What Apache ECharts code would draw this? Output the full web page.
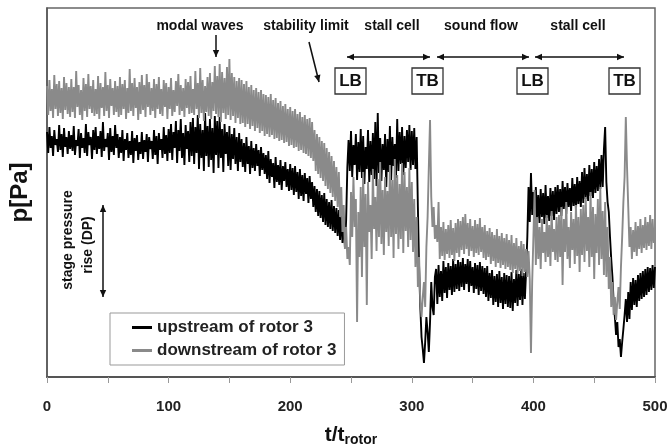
<!DOCTYPE html>
<html>
<head>
<meta charset="utf-8">
<script src="https://cdn.jsdelivr.net/npm/echarts@6/dist/echarts.min.js"></script>
<style>
  html, body { margin: 0; padding: 0; background: #fff; }
  #main { width: 671px; height: 447px; }
</style>
</head>
<body>
<div id="main"></div>
<script>
// sampling step in t/t_rotor
var tStep = 1;
var xTicks = [0, 100, 200, 300, 400, 500];
var seriesNames = ["upstream of rotor 3", "downstream of rotor 3"];

// upstream of rotor 3 (black), one row = 20 t/t_rotor
var upstream = [
  245, 224, 250, 229, 241, 221, 247, 232, 238, 225, 252, 227, 243, 220, 249, 230, 240, 223, 246, 228,
  242, 226, 251, 222, 237, 231, 248, 219, 244, 229, 239, 224, 253, 221, 245, 232, 240, 218, 247, 227,
  250, 223, 241, 228, 246, 220, 255, 226, 238, 230, 244, 217, 249, 225, 241, 222, 252, 229, 243, 219,
  240, 224, 247, 216, 238, 227, 244, 219, 236, 222, 246, 214, 239, 226, 242, 217, 235, 223, 245, 218,
  237, 225, 243, 215, 240, 228, 236, 218, 247, 222, 241, 213, 244, 227, 238, 219, 250, 223, 242, 216,
  248, 224, 253, 217, 245, 229, 256, 214, 247, 226, 258, 219, 244, 212, 252, 228, 246, 215, 255, 221,
  259, 213, 250, 224, 262, 208, 253, 219, 247, 206, 264, 221, 251, 210, 258, 217, 249, 204, 261, 222,
  256, 209, 260, 219, 248, 205, 253, 223, 245, 211, 251, 207, 243, 218, 249, 213, 240, 206, 244, 215,
  238, 210, 234, 205, 240, 213, 231, 203, 236, 209, 229, 206, 233, 211, 227, 201, 230, 207, 224, 203,
  222, 198, 226, 194, 218, 200, 214, 189, 220, 195, 212, 192, 217, 187, 211, 196, 215, 190, 208, 186,
  213, 187, 209, 182, 211, 185, 205, 178, 208, 181, 202, 176, 204, 183, 199, 174, 201, 178, 195, 170,
  191, 165, 188, 161, 186, 159, 182, 155, 184, 152, 178, 150, 175, 148, 177, 146, 171, 144, 169, 141,
  167, 137, 162, 134, 160, 130, 157, 210, 237, 206, 246, 200, 232, 212, 243, 197, 235, 205, 248, 199,
  241, 193, 230, 208, 247, 195, 236, 202, 244, 198, 255, 191, 264, 204, 239, 196, 233, 207, 243, 190,
  238, 205, 251, 197, 240, 211, 233, 199, 258, 206, 245, 213, 250, 202, 241, 209, 247, 215, 252, 207,
  246, 212, 249, 208, 240, 170, 110, 70, 40, 28, 14, 35, 60, 45, 25, 55, 95, 70, 62, 100,
  108, 73, 112, 80, 106, 76, 116, 84, 110, 79, 114, 87, 111, 82, 118, 85, 113, 88, 117, 86,
  115, 90, 119, 87, 113, 93, 118, 85, 116, 91, 110, 84, 114, 88, 112, 82, 115, 86, 111, 83,
  109, 80, 111, 76, 104, 79, 107, 72, 101, 75, 103, 70, 106, 74, 100, 68, 104, 73, 102, 70,
  101, 69, 105, 66, 98, 74, 107, 71, 103, 77, 108, 72, 104, 78, 106, 140, 190, 155, 204, 162,
  185, 150, 190, 158, 182, 154, 188, 160, 184, 153, 192, 159, 181, 156, 189, 161, 186, 157, 190, 163,
  192, 165, 188, 161, 196, 168, 190, 163, 194, 170, 189, 166, 199, 171, 193, 167, 200, 173, 196, 170,
  205, 174, 209, 178, 203, 176, 212, 181, 208, 179, 215, 184, 211, 186, 218, 188, 222, 190, 228, 250,
  195, 175, 165, 140, 118, 100, 75, 60, 42, 55, 30, 38, 20, 35, 48, 62, 78, 55, 85, 58,
  95, 67, 99, 72, 97, 70, 102, 76, 104, 78, 106, 80, 108, 82, 110, 85, 109, 87, 112, 89,
  110
];

// downstream of rotor 3 (grey)
var downstream = [
  291, 262, 297, 266, 288, 259, 302, 268, 293, 261, 296, 264, 289, 258, 300, 267, 294, 263, 290, 260,
  298, 265, 290, 259, 306, 270, 292, 262, 287, 257, 299, 266, 293, 260, 303, 268, 291, 264, 297, 261,
  288, 263, 301, 258, 294, 269, 290, 261, 305, 266, 292, 259, 298, 271, 289, 262, 296, 265, 291, 260,
  300, 262, 293, 268, 297, 258, 289, 264, 308, 266, 294, 261, 299, 269, 290, 257, 295, 263, 302, 267,
  292, 260, 303, 270, 295, 262, 289, 266, 298, 259, 293, 268, 300, 263, 288, 261, 297, 270, 294, 258,
  290, 268, 299, 261, 287, 265, 296, 271, 303, 262, 292, 266, 289, 260, 298, 269, 295, 263, 301, 264,
  288, 262, 306, 268, 294, 259, 309, 264, 297, 256, 291, 265, 300, 261, 304, 258, 295, 266, 311, 263,
  301, 260, 313, 255, 305, 264, 299, 258, 310, 262, 318, 257, 304, 261, 300, 254, 296, 259, 299, 253,
  297, 254, 293, 250, 296, 253, 290, 248, 292, 251, 287, 246, 289, 249, 285, 244, 287, 246, 283, 241,
  282, 243, 280, 240, 283, 242, 277, 238, 279, 239, 274, 236, 276, 237, 271, 234, 273, 235, 268, 231,
  270, 232, 266, 229, 268, 230, 263, 226, 265, 227, 260, 224, 262, 223, 258, 221, 259, 219, 255, 216,
  247, 206, 243, 203, 240, 199, 236, 196, 234, 191, 229, 188, 225, 184, 221, 180, 216, 176, 210, 170,
  205, 160, 190, 145, 172, 128, 150, 118, 130, 112, 185, 140, 200, 150, 178, 55, 165, 120, 190, 100,
  205, 130, 183, 72, 195, 145, 172, 118, 208, 148, 180, 126, 198, 140, 215, 133, 187, 122, 200, 145,
  186, 131, 212, 140, 197, 119, 218, 143, 202, 128, 193, 138, 214, 124, 205, 146, 190, 130, 209, 137,
  195, 125, 178, 110, 160, 90, 120, 75, 60, 80, 95, 70, 130, 160, 210, 257, 180, 150, 170, 138,
  152, 135, 175, 118, 150, 121, 155, 117, 148, 123, 152, 119, 157, 122, 149, 116, 154, 124, 158, 120,
  156, 127, 160, 123, 163, 128, 154, 121, 158, 126, 151, 120, 157, 124, 153, 122, 159, 125, 150, 119,
  152, 117, 146, 120, 149, 113, 145, 116, 142, 110, 148, 114, 141, 109, 144, 112, 139, 108, 143, 110,
  137, 107, 142, 104, 134, 108, 139, 103, 131, 106, 136, 101, 133, 105, 128, 100, 126, 98, 24, 95,
  140, 187, 112, 160, 118, 150, 108, 158, 124, 145, 115, 162, 120, 152, 111, 166, 125, 148, 117, 160,
  115, 162, 120, 170, 92, 158, 125, 175, 118, 150, 109, 165, 127, 158, 113, 172, 121, 160, 105, 168,
  122, 172, 115, 180, 126, 160, 110, 185, 120, 170, 98, 163, 124, 178, 112, 190, 118, 166, 102, 175,
  100, 150, 88, 120, 70, 95, 62, 80, 57, 75, 90, 68, 110, 140, 175, 200, 260, 210, 170, 130,
  150, 118, 147, 125, 155, 121, 151, 128, 158, 124, 152, 129, 160, 127, 155, 131, 162, 128, 158, 134,
  150
];

function toPairs(arr) {
  return arr.map(function (v, i) {
    return [i * tStep, v];
  });
}

var FONT = "Liberation Sans, Arial, sans-serif";

// arrow head as small triangle
function head(x, y, fx, fy) {
  var a = Math.atan2(y - fy, x - fx);
  var L = 7, W = 3.2;
  return {
    type: "polygon",
    shape: {
      points: [
        [x, y],
        [x - L * Math.cos(a) + W * Math.sin(a), y - L * Math.sin(a) - W * Math.cos(a)],
        [x - L * Math.cos(a) - W * Math.sin(a), y - L * Math.sin(a) + W * Math.cos(a)]
      ]
    },
    style: { fill: "#111" },
    z: 100
  };
}
function arrow(x1, y1, x2, y2, both) {
  var els = [
    {
      type: "line",
      shape: { x1: x1, y1: y1, x2: x2, y2: y2 },
      style: { stroke: "#111", lineWidth: 1.5 },
      z: 100
    },
    head(x2, y2, x1, y1)
  ];
  if (both) els.push(head(x1, y1, x2, y2));
  return els;
}
function label(txt, x, y, size, rot) {
  return {
    type: "text",
    x: x,
    y: y,
    rotation: rot || 0,
    style: {
      text: txt,
      font: "bold " + size + "px " + FONT,
      fill: "#111",
      textAlign: "center",
      textVerticalAlign: "middle"
    },
    z: 100
  };
}
function box(txt, x, y) {
  return [
    {
      type: "rect",
      shape: { x: x, y: y, width: 31, height: 26 },
      style: { fill: "#fff", stroke: "#333", lineWidth: 1.3 },
      z: 99
    },
    label(txt, x + 15.5, y + 13.5, 17)
  ];
}

var graphics = [].concat(
  label("modal waves", 200, 26, 14),
  label("stability limit", 306, 26, 14),
  label("stall cell", 392, 26, 14),
  label("sound flow", 481, 26, 14),
  label("stall cell", 578, 26, 14),
  arrow(216, 35, 216, 57),
  arrow(309, 42, 319, 82),
  arrow(347, 57, 430, 57, true),
  arrow(437, 57, 529, 57, true),
  arrow(535, 57, 624, 57, true),
  box("LB", 335, 68),
  box("TB", 412, 68),
  box("LB", 517, 68),
  box("TB", 609, 68),
  label("stage pressure", 68, 240, 14, Math.PI / 2),
  label("rise (DP)", 88, 245, 14, Math.PI / 2),
  arrow(103, 205, 103, 297, true)
);

var myChart = echarts.init(document.getElementById("main"));
var option = {
  animation: false,
  backgroundColor: "#fff",
  textStyle: { fontFamily: FONT },
  grid: {
    left: 47,
    right: 16,
    top: 8,
    bottom: 70,
    show: true,
    borderColor: "#666",
    borderWidth: 1.5,
    outerBoundsMode: "none"
  },
  legend: {
    orient: "vertical",
    left: 110,
    top: 313,
    data: seriesNames,
    icon: "rect",
    itemWidth: 20,
    itemHeight: 3,
    itemGap: 6,
    padding: [6, 8, 6, 22],
    backgroundColor: "#fff",
    borderColor: "#999",
    borderWidth: 1,
    textStyle: { fontSize: 17, fontWeight: "bold", color: "#222", fontFamily: FONT }
  },
  xAxis: {
    type: "value",
    min: 0,
    max: 500,
    interval: 50,
    axisLine: { lineStyle: { color: "#555", width: 2 } },
    axisTick: { show: true, length: 6, lineStyle: { color: "#999" } },
    axisLabel: {
      margin: 22,
      fontSize: 15,
      fontWeight: "bold",
      color: "#222",
      formatter: function (v) {
        return xTicks.indexOf(v) >= 0 ? String(v) : "";
      }
    },
    splitLine: { show: false },
    name: "{a|t/t}{b|rotor}",
    nameLocation: "middle",
    nameGap: 46,
    nameTextStyle: {
      rich: {
        a: { fontSize: 21, fontWeight: "bold", color: "#111", fontFamily: FONT },
        b: { fontSize: 14, fontWeight: "bold", color: "#111", fontFamily: FONT, padding: [10, 0, 0, 0] }
      }
    }
  },
  yAxis: {
    type: "value",
    min: 0,
    max: 369,
    axisLine: { show: true, lineStyle: { color: "#555", width: 1.5 } },
    axisTick: { show: false },
    axisLabel: { show: false },
    splitLine: { show: false },
    name: "p[Pa]",
    nameLocation: "middle",
    nameGap: 15,
    nameRotate: 90,
    nameTextStyle: { fontSize: 24, fontWeight: "bold", color: "#111", fontFamily: FONT }
  },
  series: [
    {
      name: seriesNames[0],
      type: "line",
      data: toPairs(upstream),
      showSymbol: false,
      symbol: "none",
      itemStyle: { color: "#000" },
      lineStyle: { color: "#000", width: 1.9 }
    },
    {
      name: seriesNames[1],
      type: "line",
      data: toPairs(downstream),
      showSymbol: false,
      symbol: "none",
      itemStyle: { color: "#8a8a8a" },
      lineStyle: { color: "#8a8a8a", width: 1.9 }
    }
  ],
  graphic: graphics
};
myChart.setOption(option);
</script>
</body>
</html>
